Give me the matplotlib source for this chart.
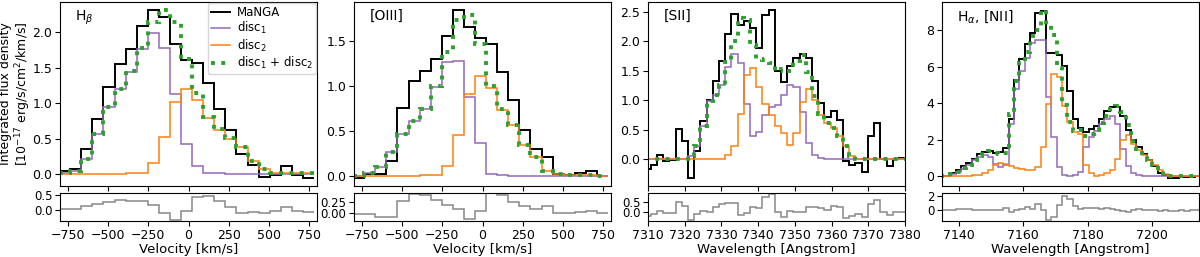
import numpy as np
import matplotlib
matplotlib.use("Agg")
import matplotlib.pyplot as plt
from matplotlib.ticker import FormatStrFormatter, MultipleLocator

# ---- H-beta (velocity bins, km/s) ----
hb_manga = [0.05, 0.07, 0.35, 0.78, 1.23, 1.55, 1.76, 2.09, 2.31, 2.21, 1.83, 1.61,
            1.57, 1.28, 0.92, 0.62, 0.29, 0.13, -0.04, -0.01, 0.12, -0.01, -0.05]
hb_disc1 = [0.01, 0.05, 0.21, 0.57, 0.95, 1.20, 1.44, 1.76, 1.99, 1.78, 1.13, 0.43,
            0.11, 0.02, 0.01, 0.005, 0.0, 0.0, 0.0, 0.0, 0.0, 0.0, 0.0]
hb_disc2 = [0.0, 0.0, 0.0, 0.0, 0.0, 0.005, 0.01, 0.02, 0.16, 0.53, 1.02, 1.20,
            1.04, 0.79, 0.62, 0.50, 0.38, 0.19, 0.07, 0.02, 0.02, 0.02, 0.01]

# ---- [OIII] (velocity bins, km/s) ----
o3_manga = [-0.02, 0.02, 0.02, 0.17, 0.75, 1.05, 1.17, 1.30, 1.56, 1.84, 1.66, 1.53,
            1.47, 1.16, 0.84, 0.51, 0.30, 0.21, 0.02, 0.01, 0.03, 0.05, 0.0]
o3_disc1 = [0.0, 0.03, 0.10, 0.26, 0.46, 0.61, 0.74, 0.99, 1.27, 1.28, 0.88, 0.36,
            0.02, 0.01, 0.0, 0.0, 0.0, 0.0, 0.0, 0.0, 0.0, 0.0, 0.0]
o3_disc2 = [0.0, 0.0, 0.0, 0.0, 0.0, 0.0, 0.005, 0.01, 0.11, 0.45, 0.91, 1.11,
            0.98, 0.73, 0.57, 0.34, 0.21, 0.05, 0.02, 0.01, 0.01, 0.005, 0.0]

# ---- [SII] (wavelength bins, Angstrom) ----
s2_manga = [-0.17, -0.09, 0.07, -0.03, -0.01, 0.51, 0.31, -0.31, 0.14, 0.64, 1.01,
            1.33, 1.67, 2.12, 2.46, 2.27, 2.34, 2.22, 1.89, 2.44, 2.52, 1.50, 1.31,
            1.58, 1.71, 1.78, 1.71, 1.33, 0.96, 0.72, 0.82, 0.67, -0.03, -0.10,
            -0.06, -0.21, 0.39, 0.61, 0.0, -0.11, 0.0, 0.02]
s2_disc1 = [0.0, 0.0, 0.0, 0.0, 0.0, 0.0, 0.0, 0.05, 0.22, 0.57, 0.98, 1.08, 1.25,
            1.57, 1.79, 1.63, 0.93, 0.40, 0.46, 0.75, 0.88, 0.92, 1.08, 1.25, 1.22,
            0.80, 0.28, 0.07, 0.02, 0.01, 0.0, 0.0, 0.0, 0.0, 0.0, 0.0, 0.0, 0.0,
            0.0, 0.0, 0.0, 0.0]
s2_disc2 = [0.0, 0.0, 0.0, 0.0, 0.0, 0.0, 0.0, 0.0, 0.0, 0.0, 0.0, 0.0, 0.01, 0.08,
            0.22, 0.76, 1.42, 1.54, 1.23, 0.93, 0.75, 0.57, 0.45, 0.25, 0.45, 0.97,
            1.19, 1.00, 0.75, 0.61, 0.53, 0.39, 0.22, 0.06, 0.01, 0.0, 0.0, 0.0,
            0.0, 0.0, 0.0, 0.0]

# ---- H-alpha + [NII] (wavelength bins, Angstrom) ----
ha_manga = [0.0, 0.02, 0.15, 0.35, 0.56, 0.73, 0.96, 1.20, 1.33, 1.36, 1.27, 1.30,
            1.55, 3.15, 5.27, 6.42, 7.24, 7.87, 8.96, 9.05, 6.78, 6.78, 6.65, 6.05,
            4.69, 3.15, 2.64, 2.45, 2.60, 2.78, 3.15, 3.60, 3.82, 3.78, 3.33, 2.55,
            2.00, 1.60, 1.22, 0.90, 0.55, 0.20, 0.05, -0.08, -0.08, -0.05, -0.06,
            -0.05, 0.0]
ha_disc1 = [0.0, 0.02, 0.10, 0.25, 0.42, 0.60, 0.87, 1.05, 1.15, 1.05, 0.69, 0.50,
            0.60, 2.87, 4.78, 5.78, 6.50, 7.33, 7.50, 7.50, 4.33, 2.15, 0.50, 0.05,
            0.0, 0.05, 0.24, 1.60, 2.15, 2.50, 2.87, 3.15, 3.33, 2.87, 1.50, 0.55,
            0.15, 0.05, 0.02, 0.01, 0.0, 0.0, 0.0, 0.0, 0.0, 0.0, 0.0, 0.0, 0.0]
ha_disc2 = [0.0, 0.0, 0.0, 0.0, 0.01, 0.02, 0.04, 0.08, 0.18, 0.33, 0.60, 0.73,
            0.69, 0.56, 0.47, 0.42, 0.33, 0.35, 0.50, 1.60, 3.96, 5.60, 5.42, 3.87,
            3.00, 2.45, 2.30, 0.60, 0.15, 0.02, 0.05, 0.15, 0.33, 0.96, 2.00, 2.24,
            1.78, 1.42, 1.15, 0.87, 0.60, 0.33, 0.11, 0.03, 0.01, 0.01, 0.01, 0.01,
            0.01]

# bin grids: (first centre, bin width)
vel_grid = (-771.0, 69.0)
s2_grid = (7309.9, 1.69)
ha_grid = (7134.9, 1.651)

panels = [
    dict(label=r"H$_\beta$", manga=hb_manga, d1=hb_disc1, d2=hb_disc2, grid=vel_grid,
         xlim=(-800, 800), xticks=[-750, -500, -250, 0, 250, 500, 750],
         xlabel="Velocity [km/s]", ystep=0.5,
         rticks=[0.0, 0.5], rlim=(-0.37, 0.57), rfmt="%.1f"),
    dict(label="[OIII]", manga=o3_manga, d1=o3_disc1, d2=o3_disc2, grid=vel_grid,
         xlim=(-800, 800), xticks=[-750, -500, -250, 0, 250, 500, 750],
         xlabel="Velocity [km/s]", ystep=0.5,
         rticks=[0.0, 0.25], rlim=(-0.18, 0.47), rfmt="%.2f"),
    dict(label="[SII]", manga=s2_manga, d1=s2_disc1, d2=s2_disc2, grid=s2_grid,
         xlim=(7310, 7380), xticks=list(range(7310, 7381, 10)),
         xlabel="Wavelength [Angstrom]", ystep=0.5,
         rticks=[0.0, 0.5], rlim=(-0.41, 0.93), rfmt="%.1f"),
    dict(label=r"H$_\alpha$, [NII]", manga=ha_manga, d1=ha_disc1, d2=ha_disc2,
         grid=ha_grid, xlim=(7134.8, 7214.6), xticks=[7140, 7160, 7180, 7200],
         xlabel="Wavelength [Angstrom]", ystep=2,
         rticks=[0, 2], rlim=(-1.6, 2.5), rfmt="%d"),
]

W, H = 1200, 257
fig = plt.figure(figsize=(W / 100, H / 100), dpi=100)
lefts = [60, 354, 648, 942]
width = 257
tick_kw = dict(length=3.5, pad=2)

for i, (p, left) in enumerate(zip(panels, lefts)):
    ax = fig.add_axes([left / W, 1 - 186 / H, width / W, 184 / H])
    axr = fig.add_axes([left / W, 1 - 221 / H, width / W, 28 / H], sharex=ax)

    manga = np.array(p["manga"])
    d1 = np.array(p["d1"])
    d2 = np.array(p["d2"])
    total = d1 + d2
    start, step = p["grid"]
    edges = start - step / 2 + step * np.arange(len(manga) + 1)

    ax.stairs(manga, edges, baseline=None, color="black", lw=1.4, label="MaNGA")
    ax.stairs(d1, edges, baseline=None, color="#9467bd", lw=1.1, label=r"disc$_1$")
    ax.stairs(d2, edges, baseline=None, color="#ff7f0e", lw=1.1, label=r"disc$_2$")
    ax.stairs(total, edges, baseline=None, color="#2ca02c", lw=2.8, ls=":",
              label=r"disc$_1$ + disc$_2$")
    axr.stairs(manga - total, edges, baseline=None, color="#888888", lw=1.1)

    ax.set_xlim(*p["xlim"])
    ax.set_xticks(p["xticks"])
    ax.yaxis.set_major_locator(MultipleLocator(p["ystep"]))
    ax.tick_params(labelbottom=False, labelsize=9, **tick_kw)
    axr.set_ylim(*p["rlim"])
    axr.set_yticks(p["rticks"])
    axr.yaxis.set_major_formatter(FormatStrFormatter(p["rfmt"]))
    axr.tick_params(axis="x", labelsize=9, **tick_kw)
    axr.tick_params(axis="y", labelsize=8.5, **tick_kw)
    axr.set_xlabel(p["xlabel"], fontsize=9.5, labelpad=1)
    ax.text(0.06, 0.965, p["label"], transform=ax.transAxes, fontsize=10,
            ha="left", va="top")
    if i == 0:
        ax.set_ylabel("Integrated flux density\n[10$^{-17}$ erg/s/cm$^2$/km/s]",
                      fontsize=9, linespacing=1.1)
        ax.yaxis.set_label_coords(-0.105, 0.5)
        ax.legend(loc="upper right", fontsize=8.5, borderaxespad=0.1,
                  handlelength=1.6, labelspacing=0.1, borderpad=0.25,
                  handletextpad=0.6)

fig.savefig("out.png", dpi=100)
